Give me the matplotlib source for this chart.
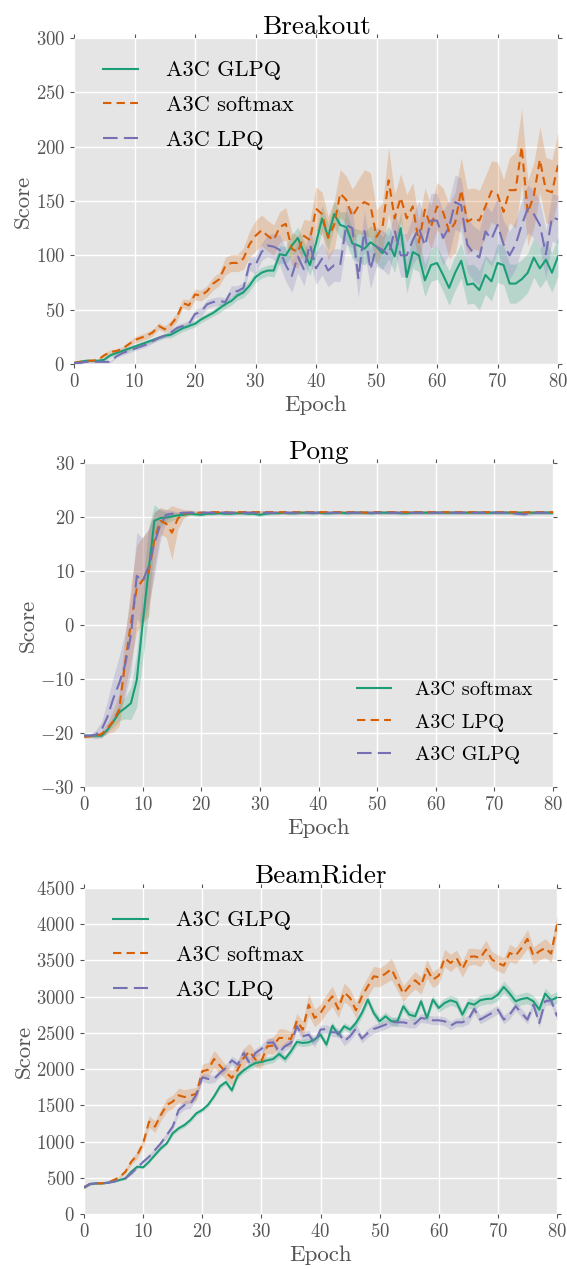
import numpy as np
import matplotlib
matplotlib.use("Agg")
import matplotlib.pyplot as plt

plt.rcParams['font.family'] = ['cmr10', 'DejaVu Serif']
plt.rcParams['mathtext.fontset'] = 'cm'
plt.rcParams['axes.formatter.use_mathtext'] = True

GREEN, ORANGE, PURPLE = '#1b9e77', '#d95f02', '#7570b3'

epochs = np.arange(81)

# ---- Breakout ----
breakout_glpq = [1, 2, 3, 3, 3, 4, 8, 10, 12, 14,
                 16, 18, 20, 22, 24, 26, 27, 30, 33, 35,
                 37, 41, 44, 47, 51, 55, 58, 63, 66, 72,
                 80, 84, 86, 86, 101, 100, 109, 116, 103, 91,
                 111, 134, 117, 138, 128, 126, 111, 109, 106, 112,
                 108, 102, 112, 99, 125, 80, 103, 100, 77, 91,
                 93, 82, 70, 84, 95, 73, 74, 68, 82, 76,
                 93, 91, 74, 74, 78, 84, 98, 88, 96, 84,
                 99]
breakout_glpq_sd = [1, 1, 1, 1, 1, 1, 2, 2, 2, 2,
                    2, 2, 2, 2, 2, 2, 3, 3, 3, 3,
                    3, 3, 3, 3, 4, 4, 4, 4, 5, 5,
                    5, 5, 5, 6, 8, 8, 10, 10, 10, 10,
                    12, 12, 12, 12, 12, 14, 14, 15, 15, 15,
                    15, 15, 15, 15, 15, 15, 15, 15, 15, 15,
                    15, 15, 16, 16, 16, 18, 18, 18, 18, 18,
                    18, 18, 18, 18, 18, 18, 18, 18, 18, 18,
                    18]
breakout_softmax = [1, 2, 3, 3, 4, 8, 11, 12, 14, 18,
                    22, 24, 26, 29, 35, 32, 36, 43, 56, 54,
                    64, 63, 67, 74, 78, 90, 93, 93, 97, 110,
                    118, 123, 118, 114, 126, 129, 106, 103, 118, 114,
                    143, 138, 116, 128, 157, 151, 136, 145, 149, 146,
                    117, 126, 169, 134, 153, 134, 145, 112, 142, 126,
                    145, 140, 122, 130, 160, 131, 134, 132, 145, 159,
                    156, 140, 160, 160, 200, 139, 155, 188, 160, 158,
                    183]
breakout_softmax_sd = [1, 1, 1, 1, 1, 2, 2, 2, 2, 2,
                       3, 3, 3, 3, 3, 3, 4, 4, 4, 5,
                       5, 5, 5, 6, 6, 8, 8, 8, 10, 12,
                       14, 14, 14, 14, 14, 15, 15, 15, 15, 18,
                       20, 20, 20, 22, 22, 22, 25, 25, 30, 30,
                       25, 22, 30, 22, 22, 22, 22, 20, 20, 20,
                       22, 22, 25, 28, 30, 30, 28, 28, 28, 28,
                       30, 30, 30, 35, 35, 30, 30, 30, 30, 30,
                       30]
breakout_lpq = [1, 1, 2, 2, 2, 2, 2, 7, 10, 12,
                14, 16, 18, 21, 24, 26, 29, 33, 35, 37,
                46, 48, 55, 57, 58, 57, 67, 67, 70, 92,
                91, 103, 109, 108, 105, 91, 81, 99, 87, 110,
                88, 97, 86, 91, 91, 128, 125, 79, 123, 87,
                108, 105, 100, 123, 100, 100, 114, 125, 109, 132,
                132, 116, 126, 149, 146, 110, 102, 98, 122, 115,
                128, 110, 100, 110, 128, 143, 138, 128, 101, 135,
                133]
breakout_lpq_sd = [1, 1, 1, 1, 1, 1, 1, 1, 2, 2,
                   2, 2, 2, 2, 2, 2, 3, 3, 3, 3,
                   4, 4, 4, 4, 4, 4, 5, 5, 5, 6,
                   8, 8, 10, 12, 14, 15, 15, 15, 15, 15,
                   15, 15, 15, 15, 15, 18, 18, 18, 18, 18,
                   18, 18, 18, 18, 20, 20, 22, 25, 25, 25,
                   25, 25, 25, 25, 25, 25, 25, 25, 25, 25,
                   25, 22, 22, 22, 22, 22, 22, 22, 22, 22,
                   22]

# ---- Pong ----
pong_softmax = [-20.5, -20.5, -20.5, -20.5, -19.4, -17.9, -16.2, -15.4, -14.5, -10.2,
                0.3, 9.9, 19.3, 19.8, 19.9, 20.1, 20.3, 20.4, 20.6, 20.5,
                20.4, 20.6, 20.6, 20.7, 20.6, 20.6, 20.7, 20.7, 20.6, 20.6,
                20.4, 20.6, 20.7, 20.7, 20.8, 20.7, 20.7, 20.8, 20.8, 20.7,
                20.8, 20.7, 20.7, 20.8, 20.8, 20.7, 20.8, 20.8, 20.8, 20.7,
                20.8, 20.8, 20.8, 20.8, 20.7, 20.7, 20.8, 20.8, 20.8, 20.8,
                20.8, 20.8, 20.8, 20.8, 20.8, 20.8, 20.8, 20.8, 20.8, 20.8,
                20.8, 20.8, 20.8, 20.8, 20.8, 20.8, 20.8, 20.8, 20.8, 20.8,
                20.8]
pong_softmax_sd = [0.3, 0.3, 0.3, 0.3, 0.5, 1.0, 1.5, 2.0, 3.0, 5.0,
                   7.0, 8.0, 3.0, 1.5, 1.0, 0.8, 0.5, 0.4, 0.3, 0.3,
                   0.3, 0.3, 0.3, 0.3, 0.3, 0.3, 0.3, 0.3, 0.3, 0.3,
                   0.3, 0.3, 0.3, 0.3, 0.3, 0.3, 0.3, 0.3, 0.3, 0.3,
                   0.3, 0.3, 0.3, 0.3, 0.3, 0.3, 0.3, 0.3, 0.3, 0.3,
                   0.3, 0.3, 0.3, 0.3, 0.3, 0.3, 0.3, 0.3, 0.3, 0.3,
                   0.3, 0.3, 0.3, 0.3, 0.3, 0.3, 0.3, 0.3, 0.3, 0.3,
                   0.3, 0.3, 0.3, 0.3, 0.3, 0.3, 0.3, 0.3, 0.3, 0.3,
                   0.3]
pong_lpq = [-20.7, -20.6, -20.5, -20.2, -19.1, -17.8, -15.7, -7.1, 0.3, 6.8,
            8.3, 9.6, 15.7, 19.3, 18.8, 17.1, 19.7, 20.6, 20.8, 20.8,
            20.8, 20.8, 20.9, 20.9, 20.9, 20.8, 20.9, 20.9, 20.9, 20.9,
            20.9, 20.9, 20.9, 20.9, 20.9, 20.8, 20.9, 20.9, 20.9, 20.9,
            20.9, 20.9, 20.9, 20.9, 20.9, 20.9, 20.9, 20.9, 20.8, 20.9,
            20.9, 20.9, 20.9, 20.9, 20.9, 20.9, 20.9, 20.9, 20.9, 20.9,
            20.9, 20.9, 20.9, 20.9, 20.9, 20.9, 20.9, 20.9, 20.9, 20.9,
            20.9, 20.9, 20.9, 20.9, 20.9, 20.8, 20.9, 20.9, 20.9, 20.9,
            20.9]
pong_lpq_sd = [0.3, 0.3, 0.3, 0.5, 1.0, 2.0, 3.0, 5.0, 7.0, 8.0,
               8.0, 8.0, 5.0, 2.5, 2.5, 5.0, 2.0, 0.8, 0.5, 0.3,
               0.3, 0.3, 0.3, 0.3, 0.3, 0.3, 0.3, 0.3, 0.3, 0.3,
               0.3, 0.3, 0.3, 0.3, 0.3, 0.3, 0.3, 0.3, 0.3, 0.3,
               0.3, 0.3, 0.3, 0.3, 0.3, 0.3, 0.3, 0.3, 0.3, 0.3,
               0.3, 0.3, 0.3, 0.3, 0.3, 0.3, 0.3, 0.3, 0.3, 0.3,
               0.3, 0.3, 0.3, 0.3, 0.3, 0.3, 0.3, 0.3, 0.3, 0.3,
               0.3, 0.3, 0.3, 0.3, 0.3, 0.3, 0.3, 0.3, 0.3, 0.3,
               0.3]
pong_glpq = [-20.5, -20.5, -20.3, -19.4, -17.0, -13.6, -10.8, -7.4, -1.9, 9.1,
             8.1, 10.8, 15.1, 18.5, 20.4, 20.6, 20.7, 20.8, 20.8, 20.8,
             20.8, 20.8, 20.8, 20.8, 20.8, 20.8, 20.8, 20.8, 20.8, 20.8,
             20.8, 20.8, 20.8, 20.8, 20.8, 20.8, 20.8, 20.8, 20.8, 20.8,
             20.8, 20.8, 20.8, 20.8, 20.8, 20.8, 20.8, 20.8, 20.8, 20.8,
             20.8, 20.8, 20.8, 20.8, 20.8, 20.8, 20.8, 20.8, 20.8, 20.8,
             20.8, 20.8, 20.8, 20.8, 20.8, 20.8, 20.8, 20.8, 20.8, 20.8,
             20.8, 20.8, 20.8, 20.7, 20.6, 20.5, 20.6, 20.8, 20.8, 20.8,
             20.8]
pong_glpq_sd = [0.3, 0.3, 0.8, 1.5, 3.0, 4.0, 5.0, 6.0, 7.0, 8.0,
                8.0, 7.0, 6.0, 3.0, 1.0, 0.6, 0.3, 0.3, 0.3, 0.3,
                0.3, 0.3, 0.3, 0.3, 0.3, 0.3, 0.3, 0.3, 0.3, 0.3,
                0.3, 0.3, 0.3, 0.3, 0.3, 0.3, 0.3, 0.3, 0.3, 0.3,
                0.3, 0.3, 0.3, 0.3, 0.3, 0.3, 0.3, 0.3, 0.3, 0.3,
                0.3, 0.3, 0.3, 0.3, 0.3, 0.3, 0.3, 0.3, 0.3, 0.3,
                0.3, 0.3, 0.3, 0.3, 0.3, 0.3, 0.3, 0.3, 0.3, 0.3,
                0.3, 0.3, 0.3, 0.3, 0.3, 0.3, 0.3, 0.3, 0.3, 0.3,
                0.3]

# ---- BeamRider ----
beam_glpq = [368, 414, 423, 423, 432, 446, 469, 492, 584, 653,
             644, 722, 815, 907, 976, 1114, 1183, 1229, 1298, 1390,
             1436, 1509, 1624, 1762, 1822, 1707, 1910, 1983, 2039, 2085,
             2098, 2121, 2140, 2209, 2140, 2246, 2375, 2361, 2370, 2407,
             2476, 2338, 2600, 2476, 2591, 2545, 2637, 2775, 2959, 2775,
             2660, 2729, 2660, 2660, 2867, 2752, 2729, 2936, 2706, 2959,
             2844, 2913, 2950, 2922, 2752, 2913, 2890, 2950, 2968, 2973,
             3028, 3134, 3042, 2936, 2968, 2982, 2936, 2821, 3042, 2950,
             2991]
beam_glpq_sd = [20, 15, 10, 10, 10, 10, 10, 15, 15, 15,
                20, 20, 20, 25, 25, 25, 30, 30, 30, 30,
                30, 30, 30, 35, 35, 40, 40, 40, 45, 45,
                50, 50, 50, 50, 50, 50, 50, 50, 50, 50,
                50, 50, 50, 50, 50, 50, 60, 60, 60, 60,
                60, 60, 60, 60, 60, 60, 60, 60, 60, 60,
                60, 70, 70, 70, 70, 70, 70, 70, 70, 70,
                80, 80, 80, 80, 80, 80, 80, 80, 80, 80,
                80]
beam_softmax = [368, 414, 423, 423, 432, 469, 506, 584, 722, 815,
                976, 1275, 1206, 1367, 1505, 1551, 1638, 1615, 1634, 1661,
                1970, 1993, 2140, 2048, 1956, 1878, 1993, 2154, 2246, 2131,
                2108, 2315, 2324, 2430, 2430, 2416, 2669, 2545, 2890, 2706,
                2775, 2904, 3005, 2830, 3060, 2982, 2812, 3005, 3143, 3281,
                3267, 3318, 3382, 3212, 3042, 3143, 3226, 3152, 3382, 3235,
                3290, 3534, 3465, 3534, 3382, 3548, 3557, 3534, 3649, 3511,
                3465, 3428, 3603, 3566, 3672, 3797, 3566, 3626, 3672, 3594,
                3994]
beam_softmax_sd = [20, 15, 10, 10, 10, 15, 20, 30, 40, 50,
                   60, 80, 80, 80, 90, 90, 100, 100, 100, 90,
                   100, 100, 120, 110, 100, 100, 120, 130, 110, 100,
                   100, 100, 120, 130, 120, 100, 100, 110, 150, 120,
                   120, 130, 140, 120, 130, 120, 110, 120, 130, 140,
                   130, 130, 150, 130, 110, 110, 120, 120, 130, 110,
                   110, 120, 120, 110, 110, 120, 110, 120, 130, 110,
                   110, 110, 120, 110, 120, 130, 120, 120, 130, 120,
                   130]
beam_lpq = [368, 414, 423, 423, 432, 446, 469, 492, 560, 640,
            720, 790, 883, 976, 1091, 1206, 1436, 1505, 1519, 1647,
            1887, 1864, 1864, 1947, 2016, 2121, 2062, 2223, 2085, 2223,
            2278, 2361, 2370, 2232, 2315, 2361, 2591, 2453, 2476, 2361,
            2545, 2554, 2508, 2508, 2384, 2453, 2559, 2421, 2499, 2554,
            2582, 2614, 2651, 2646, 2646, 2628, 2628, 2706, 2692, 2674,
            2674, 2660, 2600, 2646, 2646, 2683, 2830, 2683, 2729, 2775,
            2821, 2683, 2752, 2867, 2775, 2683, 2890, 2637, 2936, 2950,
            2729]
beam_lpq_sd = [20, 15, 10, 10, 10, 10, 10, 15, 20, 20,
               25, 30, 30, 40, 40, 50, 60, 60, 60, 60,
               60, 60, 50, 50, 50, 60, 60, 60, 60, 60,
               60, 60, 60, 60, 60, 60, 60, 60, 60, 60,
               60, 60, 60, 60, 60, 60, 60, 60, 60, 60,
               60, 60, 60, 60, 60, 60, 60, 60, 60, 60,
               60, 60, 60, 60, 60, 60, 60, 60, 60, 60,
               60, 60, 60, 60, 60, 60, 60, 60, 60, 60,
               60]

STYLES = {
    GREEN: dict(linestyle='-'),
    ORANGE: dict(dashes=(4, 2.5)),
    PURPLE: dict(dashes=(7, 3)),
}


def draw_panel(ax, title, series, yticks, legend_kw):
    ax.set_facecolor('#e5e5e5')
    for spine in ax.spines.values():
        spine.set_visible(False)
    ax.grid(True, color='white', linewidth=1.0)
    ax.set_axisbelow(True)
    for label, mean, sd, color in series:
        mean = np.array(mean, dtype=float)
        sd = np.array(sd, dtype=float)
        ax.fill_between(epochs, mean - sd, mean + sd, color=color,
                        alpha=0.22, linewidth=0)
        ax.plot(epochs, mean, color=color, linewidth=1.5, label=label,
                **STYLES[color])
    ax.set_xlim(0, 80)
    ax.set_xticks(range(0, 81, 10))
    ax.set_ylim(yticks[0], yticks[-1])
    ax.set_yticks(yticks)
    ax.tick_params(direction='out', top=True, right=True, length=3,
                   color='#555555', labelcolor='#555555', labelsize=13.5)
    ax.set_title(title, fontsize=19.5, pad=3)
    ax.set_xlabel('Epoch', fontsize=16.5, color='#555555', labelpad=3)
    ax.set_ylabel('Score', fontsize=16.5, color='#555555', labelpad=2)
    ax.legend(frameon=False, borderaxespad=0, **legend_kw)


top_legend = dict(loc='upper left', fontsize=16, handlelength=1.6,
                  handletextpad=1.26, labelspacing=0.68)

fig = plt.figure(figsize=(5.67, 12.69), dpi=100)

ax1 = fig.add_axes([74 / 567, 1 - 364 / 1269, 484 / 567, 326 / 1269])
draw_panel(ax1, 'Breakout', [
    ('A3C GLPQ', breakout_glpq, breakout_glpq_sd, GREEN),
    ('A3C softmax', breakout_softmax, breakout_softmax_sd, ORANGE),
    ('A3C LPQ', breakout_lpq, breakout_lpq_sd, PURPLE),
], list(range(0, 301, 50)), dict(top_legend, bbox_to_anchor=(0.041, 0.957)))

ax2 = fig.add_axes([84 / 567, 1 - 787 / 1269, 469 / 567, 324 / 1269])
draw_panel(ax2, 'Pong', [
    ('A3C softmax', pong_softmax, pong_softmax_sd, GREEN),
    ('A3C LPQ', pong_lpq, pong_lpq_sd, ORANGE),
    ('A3C GLPQ', pong_glpq, pong_glpq_sd, PURPLE),
], list(range(-30, 31, 10)),
    dict(loc='lower right', fontsize=14.7, handlelength=1.67,
         handletextpad=1.18, labelspacing=0.69,
         bbox_to_anchor=(0.974, 0.046)))

ax3 = fig.add_axes([84 / 567, 1 - 1214 / 1269, 473 / 567, 326 / 1269])
draw_panel(ax3, 'BeamRider', [
    ('A3C GLPQ', beam_glpq, beam_glpq_sd, GREEN),
    ('A3C softmax', beam_softmax, beam_softmax_sd, ORANGE),
    ('A3C LPQ', beam_lpq, beam_lpq_sd, PURPLE),
], list(range(0, 4501, 500)), dict(top_legend, bbox_to_anchor=(0.042, 0.957)))

fig.savefig('out.png', dpi=100)
